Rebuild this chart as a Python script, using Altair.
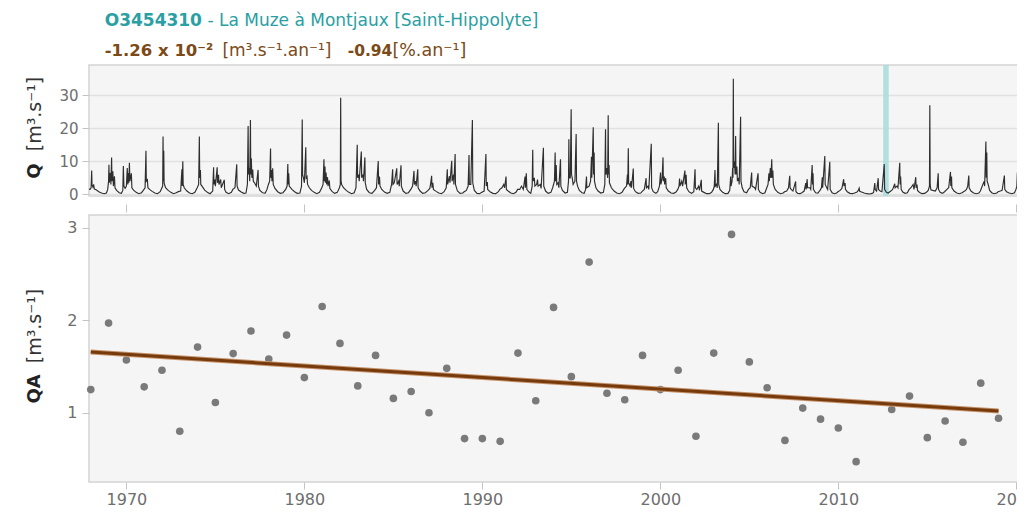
import altair as alt
import pandas as pd

# ---------------- data ----------------
qa_years = [1968, 1969, 1970, 1971, 1972, 1973, 1974, 1975, 1976, 1977,
            1978, 1979, 1980, 1981, 1982, 1983, 1984, 1985, 1986, 1987,
            1988, 1989, 1990, 1991, 1992, 1993, 1994, 1995, 1996, 1997,
            1998, 1999, 2000, 2001, 2002, 2003, 2004, 2005, 2006, 2007,
            2008, 2009, 2010, 2011, 2013, 2014, 2015, 2016, 2017, 2018, 2019]
qa_values = [1.25, 1.97, 1.57, 1.28, 1.46, 0.80, 1.71, 1.11, 1.64, 1.885,
             1.58, 1.84, 1.38, 2.15, 1.75, 1.29, 1.62, 1.155, 1.23, 1.00,
             1.48, 0.72, 0.72, 0.69, 1.645, 1.13, 2.14, 1.39, 2.63, 1.21,
             1.14, 1.62, 1.25, 1.46, 0.745, 1.645, 2.93, 1.55, 1.27, 0.70,
             1.05, 0.93, 0.835, 0.47, 1.035, 1.18, 0.73, 0.91, 0.68, 1.32, 0.94]

trend_years = [1968, 2019]
trend_values = [1.656, 1.018]

band_start = [2012.52]
band_end = [2012.83]

x_ticks = [1970, 1980, 1990, 2000, 2010, 2020]
q_ticks = [0, 10, 20, 30]
qa_ticks = [1, 2, 3]

# daily flow Q (m3/s): (decimal year, flow) read along the hydrograph
q_1968_1979 = [
    (1967.90, 1.6), (1967.96, 1.5), (1968.02, 2.0), (1968.05, 7.2), (1968.07, 2.8), (1968.12, 2.2), (1968.16, 3.0), (1968.20, 1.6), (1968.30, 1.4), (1968.45, 0.8), (1968.60, 0.4), (1968.75, 0.2), (1968.88, 0.4), (1968.95, 1.5),
    (1969.00, 4.0), (1969.02, 9.0), (1969.04, 3.5), (1969.10, 6.5), (1969.13, 3.0), (1969.17, 11.2), (1969.19, 4.0), (1969.24, 7.0), (1969.27, 2.5), (1969.33, 5.5), (1969.36, 2.0), (1969.45, 1.2), (1969.60, 0.5), (1969.72, 0.3), (1969.80, 1.2), (1969.83, 8.6), (1969.86, 2.5), (1969.93, 1.8),
    (1970.00, 2.5), (1970.05, 8.0), (1970.08, 3.0), (1970.12, 6.5), (1970.14, 3.5), (1970.17, 9.6), (1970.20, 4.0), (1970.28, 6.4), (1970.31, 2.0), (1970.40, 1.3), (1970.55, 0.6), (1970.70, 0.2), (1970.85, 0.5), (1970.95, 1.2),
    (1971.05, 2.0), (1971.10, 13.2), (1971.12, 4.0), (1971.18, 4.4), (1971.21, 2.0), (1971.30, 1.5), (1971.45, 0.9), (1971.60, 0.4), (1971.75, 0.2), (1971.90, 0.8), (1971.98, 1.8),
    (1972.04, 2.5), (1972.06, 17.5), (1972.08, 4.0), (1972.10, 13.2), (1972.12, 3.5), (1972.20, 2.0), (1972.35, 1.2), (1972.50, 0.6), (1972.65, 0.2), (1972.80, 0.5), (1972.95, 0.9),
    (1973.05, 1.0), (1973.12, 7.6), (1973.14, 2.5), (1973.17, 10.0), (1973.19, 3.0), (1973.25, 2.0), (1973.40, 1.0), (1973.55, 0.4), (1973.70, 0.2), (1973.85, 0.6), (1973.98, 2.0),
    (1974.06, 3.0), (1974.10, 17.5), (1974.12, 5.0), (1974.16, 7.4), (1974.18, 3.0), (1974.25, 2.5), (1974.40, 1.3), (1974.55, 0.6), (1974.70, 0.2), (1974.85, 1.0), (1974.90, 8.2), (1974.92, 3.0), (1974.97, 4.5),
    (1975.00, 2.5), (1975.10, 8.2), (1975.12, 3.5), (1975.18, 5.9), (1975.20, 3.0), (1975.30, 4.5), (1975.33, 2.0), (1975.50, 4.4), (1975.52, 1.5), (1975.60, 0.6), (1975.75, 0.2), (1975.90, 0.6), (1975.98, 1.5),
    (1976.10, 2.0), (1976.20, 9.1), (1976.22, 2.5), (1976.30, 1.3), (1976.45, 0.7), (1976.60, 0.3), (1976.72, 0.4), (1976.80, 3.0), (1976.84, 20.7), (1976.86, 6.0), (1976.90, 8.0), (1976.93, 4.0), (1976.97, 22.5), (1976.99, 6.0),
    (1977.02, 10.9), (1977.05, 5.0), (1977.10, 7.5), (1977.13, 4.0), (1977.20, 3.5), (1977.30, 2.5), (1977.40, 7.4), (1977.42, 2.5), (1977.50, 1.2), (1977.65, 0.5), (1977.80, 0.4), (1977.90, 1.5), (1977.98, 3.0),
    (1978.05, 4.0), (1978.10, 13.9), (1978.12, 5.0), (1978.15, 7.4), (1978.18, 4.0), (1978.22, 7.9), (1978.25, 3.0), (1978.35, 1.8), (1978.50, 0.8), (1978.65, 0.3), (1978.80, 0.5), (1978.95, 1.5),
    (1979.03, 2.5), (1979.07, 9.2), (1979.09, 3.0), (1979.12, 6.4), (1979.15, 2.5), (1979.30, 1.5), (1979.45, 0.8), (1979.60, 0.3), (1979.75, 0.4), (1979.84, 2.5), (1979.88, 22.7), (1979.90, 6.0), (1979.95, 5.0),
]
q_1980s = [
    (1980.00, 3.5), (1980.08, 14.3), (1980.10, 5.0), (1980.15, 5.4), (1980.18, 3.0), (1980.28, 2.0), (1980.40, 1.2), (1980.55, 0.6), (1980.70, 0.2), (1980.85, 0.6), (1980.98, 2.0),
    (1981.05, 3.0), (1981.10, 10.6), (1981.12, 4.0), (1981.16, 8.4), (1981.18, 3.5), (1981.22, 6.6), (1981.25, 3.0), (1981.30, 5.2), (1981.33, 2.5), (1981.40, 4.2), (1981.43, 1.8), (1981.55, 0.9), (1981.70, 0.3), (1981.85, 0.6), (1981.97, 2.0),
    (1982.02, 3.0), (1982.04, 29.3), (1982.06, 4.0), (1982.10, 2.9), (1982.20, 2.0), (1982.35, 1.2), (1982.50, 0.6), (1982.65, 0.2), (1982.80, 0.5), (1982.90, 2.0), (1982.97, 15.0), (1982.99, 5.0),
    (1983.05, 6.0), (1983.08, 4.0), (1983.20, 13.0), (1983.22, 5.0), (1983.30, 6.0), (1983.32, 4.0), (1983.40, 11.2), (1983.42, 3.5), (1983.50, 1.5), (1983.65, 0.5), (1983.80, 0.3), (1983.95, 1.2),
    (1984.05, 2.0), (1984.15, 10.1), (1984.17, 3.0), (1984.22, 5.4), (1984.25, 2.5), (1984.35, 1.5), (1984.50, 0.7), (1984.65, 0.3), (1984.80, 0.6), (1984.90, 3.0), (1984.96, 7.6), (1984.98, 3.0),
    (1985.05, 3.5), (1985.10, 5.0), (1985.19, 7.9), (1985.21, 3.0), (1985.30, 4.0), (1985.33, 2.5), (1985.43, 8.8), (1985.45, 2.5), (1985.55, 1.0), (1985.70, 0.3), (1985.85, 0.5), (1985.98, 1.5),
    (1986.08, 2.5), (1986.16, 7.1), (1986.18, 3.0), (1986.25, 4.0), (1986.28, 2.5), (1986.37, 7.6), (1986.39, 2.0), (1986.50, 1.0), (1986.65, 0.3), (1986.80, 0.5), (1986.95, 1.2),
    (1987.05, 1.8), (1987.10, 3.5), (1987.15, 5.6), (1987.17, 2.0), (1987.22, 3.5), (1987.25, 1.5), (1987.40, 0.9), (1987.55, 0.4), (1987.70, 0.2), (1987.85, 0.8), (1987.97, 2.0),
    (1988.03, 7.6), (1988.05, 3.0), (1988.15, 5.5), (1988.18, 3.5), (1988.28, 10.2), (1988.30, 4.0), (1988.38, 6.0), (1988.40, 3.0), (1988.47, 12.2), (1988.49, 3.0), (1988.60, 1.0), (1988.75, 0.3), (1988.90, 0.4), (1988.98, 0.8),
    (1989.10, 1.2), (1989.20, 2.5), (1989.25, 11.9), (1989.27, 3.0), (1989.35, 3.0), (1989.44, 22.5), (1989.46, 3.5), (1989.55, 1.2), (1989.70, 0.3), (1989.85, 0.2), (1989.95, 0.6),
]
q_1990s = [
    (1990.10, 1.0), (1990.20, 12.2), (1990.22, 2.5), (1990.28, 3.7), (1990.30, 1.5), (1990.45, 0.7), (1990.60, 0.3), (1990.75, 0.2), (1990.90, 0.8), (1990.98, 1.5),
    (1991.10, 2.0), (1991.20, 3.0), (1991.25, 2.0), (1991.33, 5.4), (1991.35, 1.5), (1991.45, 1.0), (1991.60, 0.4), (1991.75, 0.2), (1991.90, 0.7), (1991.98, 1.5),
    (1992.10, 1.5), (1992.20, 2.5), (1992.30, 1.5), (1992.40, 5.4), (1992.42, 2.0), (1992.47, 6.4), (1992.50, 1.5), (1992.62, 0.7), (1992.72, 0.3), (1992.80, 2.5), (1992.83, 13.5), (1992.85, 4.0), (1992.92, 5.0), (1992.95, 2.5),
    (1993.05, 3.0), (1993.10, 4.5), (1993.13, 2.5), (1993.25, 3.0), (1993.30, 1.8), (1993.43, 14.1), (1993.45, 2.5), (1993.55, 1.0), (1993.70, 0.3), (1993.85, 0.6), (1993.95, 2.0),
    (1994.05, 4.0), (1994.09, 12.7), (1994.11, 4.0), (1994.15, 8.9), (1994.18, 3.0), (1994.25, 3.5), (1994.30, 2.0), (1994.39, 10.6), (1994.41, 2.5), (1994.50, 1.2), (1994.65, 0.4), (1994.78, 0.6), (1994.84, 4.0), (1994.86, 16.7), (1994.88, 5.0), (1994.94, 5.0), (1994.99, 25.8),
    (1995.01, 6.0), (1995.05, 5.0), (1995.10, 3.0), (1995.20, 4.0), (1995.27, 18.3), (1995.29, 4.0), (1995.35, 2.5), (1995.45, 1.2), (1995.60, 0.5), (1995.72, 0.3), (1995.80, 1.5), (1995.85, 5.4), (1995.87, 2.0),
    (1996.00, 2.5), (1996.08, 4.0), (1996.13, 11.4), (1996.15, 5.0), (1996.23, 20.3), (1996.25, 6.0), (1996.28, 12.7), (1996.30, 4.0), (1996.38, 2.0), (1996.50, 1.0), (1996.65, 0.4), (1996.80, 0.6), (1996.88, 3.0), (1996.92, 19.7), (1996.94, 6.0), (1996.99, 8.0),
    (1997.04, 5.0), (1997.07, 24.0), (1997.09, 6.0), (1997.12, 8.9), (1997.14, 3.5), (1997.25, 2.0), (1997.40, 1.0), (1997.55, 0.4), (1997.70, 0.2), (1997.85, 0.6), (1997.98, 1.8),
    (1998.10, 2.5), (1998.15, 6.0), (1998.17, 3.0), (1998.20, 14.0), (1998.22, 3.5), (1998.30, 2.5), (1998.35, 4.0), (1998.38, 2.0), (1998.48, 7.8), (1998.50, 1.8), (1998.60, 0.8), (1998.75, 0.3), (1998.90, 0.4), (1998.98, 0.9),
    (1999.10, 1.5), (1999.20, 4.9), (1999.22, 2.0), (1999.30, 2.5), (1999.35, 1.5), (1999.49, 15.3), (1999.51, 2.0), (1999.60, 0.8), (1999.75, 0.3), (1999.85, 0.8), (1999.95, 2.5),
]
q_2000s = [
    (2000.01, 6.6), (2000.03, 3.0), (2000.10, 5.0), (2000.15, 11.2), (2000.17, 4.0), (2000.22, 5.4), (2000.24, 3.0), (2000.30, 4.9), (2000.33, 2.0), (2000.45, 1.0), (2000.60, 0.4), (2000.75, 0.3), (2000.88, 0.7), (2000.98, 1.5),
    (2001.05, 2.5), (2001.08, 4.8), (2001.10, 2.5), (2001.20, 4.0), (2001.25, 2.5), (2001.38, 7.2), (2001.40, 3.0), (2001.45, 5.9), (2001.48, 2.0), (2001.60, 0.8), (2001.75, 0.3), (2001.88, 0.8), (2001.95, 7.6), (2001.97, 2.0),
    (2002.05, 1.5), (2002.15, 2.5), (2002.20, 1.2), (2002.30, 4.4), (2002.32, 1.0), (2002.45, 0.6), (2002.60, 0.2), (2002.75, 0.2), (2002.88, 0.6), (2002.98, 1.5),
    (2003.03, 2.5), (2003.07, 7.4), (2003.09, 2.5), (2003.15, 3.0), (2003.20, 2.0), (2003.26, 21.7), (2003.28, 3.0), (2003.35, 1.5), (2003.50, 0.6), (2003.65, 0.2), (2003.80, 0.3), (2003.90, 1.2), (2003.95, 5.4), (2003.97, 2.5),
    (2004.03, 4.0), (2004.06, 8.0), (2004.08, 5.0), (2004.10, 35.0), (2004.12, 8.0), (2004.17, 10.0), (2004.20, 6.0), (2004.23, 17.7), (2004.25, 6.0), (2004.30, 8.4), (2004.33, 4.0), (2004.40, 5.0), (2004.43, 3.0), (2004.51, 23.5), (2004.53, 4.0), (2004.60, 2.0), (2004.70, 0.8), (2004.85, 0.5), (2004.95, 1.5),
    (2005.05, 2.0), (2005.13, 6.6), (2005.15, 2.5), (2005.30, 2.0), (2005.35, 1.5), (2005.49, 6.4), (2005.51, 1.5), (2005.60, 0.6), (2005.75, 0.2), (2005.88, 0.5), (2005.98, 2.0),
    (2006.05, 3.0), (2006.10, 6.4), (2006.12, 4.0), (2006.18, 8.0), (2006.21, 5.0), (2006.26, 10.6), (2006.28, 5.0), (2006.32, 7.2), (2006.35, 3.0), (2006.45, 1.5), (2006.60, 0.6), (2006.75, 0.2), (2006.90, 0.4), (2006.98, 0.8),
    (2007.10, 1.0), (2007.20, 2.0), (2007.27, 5.6), (2007.29, 2.0), (2007.35, 1.5), (2007.45, 1.0), (2007.60, 3.9), (2007.62, 0.8), (2007.72, 0.3), (2007.85, 0.2), (2007.95, 0.5),
    (2008.08, 1.0), (2008.17, 3.4), (2008.19, 1.5), (2008.25, 4.6), (2008.27, 2.0), (2008.40, 2.0), (2008.45, 1.5), (2008.53, 8.9), (2008.55, 3.0), (2008.58, 6.4), (2008.60, 1.5), (2008.72, 0.5), (2008.85, 0.4), (2008.97, 1.2),
    (2009.05, 2.0), (2009.10, 5.2), (2009.12, 2.0), (2009.24, 11.6), (2009.26, 3.0), (2009.35, 2.0), (2009.40, 1.5), (2009.52, 9.9), (2009.54, 1.5), (2009.65, 0.5), (2009.78, 0.2), (2009.90, 0.4), (2009.98, 0.8),
]
q_2010s = [
    (2010.10, 1.2), (2010.20, 1.8), (2010.30, 4.6), (2010.32, 2.5), (2010.38, 3.4), (2010.40, 1.5), (2010.50, 0.8), (2010.65, 0.3), (2010.80, 0.2), (2010.95, 0.5),
    (2011.05, 0.7), (2011.12, 1.2), (2011.17, 1.9), (2011.20, 0.9), (2011.30, 0.7), (2011.45, 0.4), (2011.60, 0.2), (2011.75, 0.1), (2011.90, 0.3), (2011.98, 0.6),
    (2012.05, 3.4), (2012.07, 1.5), (2012.15, 1.0), (2012.24, 4.9), (2012.26, 1.5), (2012.35, 1.0), (2012.45, 0.8), (2012.58, 9.2), (2012.60, 1.5), (2012.70, 0.6), (2012.80, 0.4), (2012.95, 1.0),
    (2013.05, 1.5), (2013.17, 3.2), (2013.19, 2.0), (2013.30, 2.5), (2013.35, 2.0), (2013.45, 9.6), (2013.47, 3.0), (2013.50, 5.4), (2013.53, 1.5), (2013.62, 0.7), (2013.75, 0.3), (2013.88, 0.5), (2013.98, 1.5),
    (2014.08, 2.0), (2014.20, 3.0), (2014.25, 1.5), (2014.35, 5.2), (2014.37, 2.0), (2014.42, 3.0), (2014.45, 1.2), (2014.55, 0.6), (2014.70, 0.2), (2014.85, 0.3), (2014.98, 0.8),
    (2015.05, 1.2), (2015.12, 2.5), (2015.14, 27.0), (2015.16, 3.0), (2015.20, 1.4), (2015.30, 1.2), (2015.45, 1.0), (2015.55, 2.0), (2015.61, 6.4), (2015.63, 1.5), (2015.72, 0.6), (2015.85, 0.3), (2015.97, 0.8),
    (2016.10, 1.5), (2016.20, 2.0), (2016.30, 6.8), (2016.32, 2.5), (2016.36, 5.4), (2016.38, 2.0), (2016.50, 1.0), (2016.65, 0.4), (2016.80, 0.2), (2016.95, 0.5),
    (2017.10, 1.0), (2017.20, 1.5), (2017.27, 2.5), (2017.33, 5.7), (2017.35, 2.0), (2017.45, 1.0), (2017.60, 0.4), (2017.75, 0.2), (2017.90, 0.4), (2017.98, 1.0),
    (2018.05, 2.0), (2018.12, 3.0), (2018.20, 4.0), (2018.22, 2.5), (2018.29, 16.0), (2018.31, 5.0), (2018.34, 12.7), (2018.36, 4.0), (2018.42, 3.0), (2018.50, 1.2), (2018.62, 0.5), (2018.75, 0.2), (2018.90, 0.4), (2018.98, 0.8),
    (2019.10, 1.0), (2019.20, 1.2), (2019.33, 5.7), (2019.35, 1.5), (2019.45, 0.8), (2019.60, 0.4), (2019.75, 0.2), (2019.90, 0.5), (2019.98, 1.5),
    (2020.03, 2.5), (2020.06, 6.6), (2020.08, 3.0), (2020.20, 16.7), (2020.22, 5.0), (2020.30, 4.0), (2020.35, 3.0), (2020.43, 7.9), (2020.45, 3.0), (2020.50, 2.0), (2020.60, 1.2),
]

# ---------------- tables ----------------
q_df = pd.DataFrame(q_1968_1979 + q_1980s + q_1990s + q_2000s + q_2010s,
                    columns=["t", "q"]).sort_values("t")
qa_df = pd.DataFrame({"year": qa_years, "qa": qa_values})
trend_df = pd.DataFrame({"year": trend_years, "qa": trend_values})
band_df = pd.DataFrame({"start": band_start, "end": band_end})
one = pd.DataFrame({"k": [0]})

FONT = "DejaVu Sans"
TEAL = "#2a9fa4"
BROWN = "#7b4a17"
W = 938
H_TOP = 131
H_BOT = 267

x_scale = alt.Scale(domain=[1967.9, 2020.6], nice=False, zero=False)


def txt(text, x, y, size, color, weight="normal", angle=0, align="left", baseline="alphabetic"):
    return alt.Chart(one).mark_text(
        text=text, font=FONT, fontSize=size, color=color, fontWeight=weight,
        angle=angle, align=align, baseline=baseline
    ).encode(x=alt.value(x), y=alt.value(y))


# ---------------- top panel: Q ----------------
band = alt.Chart(band_df).mark_rect(color="#a9dede", opacity=0.9).encode(
    x=alt.X("start:Q", scale=x_scale), x2="end:Q"
)
hydro = alt.Chart(q_df).mark_line(color="#2e2e2e", strokeWidth=1.15, clip=True).encode(
    x=alt.X("t:Q", scale=x_scale,
            axis=alt.Axis(values=x_ticks, labels=False, ticks=True, tickSize=8,
                          offset=8, domain=False, grid=False, title=None)),
    y=alt.Y("q:Q", scale=alt.Scale(domain=[-0.5, 39.2], nice=False, zero=False),
            axis=alt.Axis(values=q_ticks, grid=True, gridColor="#e1e1e1", gridWidth=1.5,
                          tickSize=7, labelPadding=4, title=None, domain=False,
                          labelFontSize=15)),
)

left = 89.3
title_layers = [
    txt("O3454310", 105 - left, 25.3 - 64, 17, TEAL, "bold"),
    txt("- La Muze à Montjaux [Saint-Hippolyte]", 207.7 - left, 25.3 - 64, 17, TEAL),
    txt("-1.26 x 10⁻²", 105 - left, 54.5 - 64, 16.5, BROWN, "bold"),
    txt("[m³.s⁻¹.an⁻¹]", 222.7 - left, 54.5 - 64, 17, BROWN),
    txt("-0.94", 348 - left, 54.5 - 64, 15.5, BROWN, "bold"),
    txt("[%.an⁻¹]", 392.7 - left, 54.5 - 64, 17.5, BROWN),
    txt("Q", 35 - left, 170 - 64, 18, "#222222", "bold", 270, "center", "middle"),
    txt("[m³.s⁻¹]", 35 - left, 113 - 64, 19, "#333333", "normal", 270, "center", "middle"),
]

top = alt.layer(band, hydro, *title_layers).properties(width=W, height=H_TOP)

# ---------------- bottom panel: QA ----------------
pts = alt.Chart(qa_df).mark_circle(size=58, color="#7a7a7a", opacity=1).encode(
    x=alt.X("year:Q", scale=x_scale,
            axis=alt.Axis(values=x_ticks, format="d", tickSize=7, labelPadding=2,
                          domain=False, grid=False, title=None, labelFontSize=16)),
    y=alt.Y("qa:Q", scale=alt.Scale(domain=[0.25, 3.14], nice=False, zero=False),
            axis=alt.Axis(values=qa_ticks, format="d", grid=False, tickSize=7,
                          labelPadding=5, domain=False, title=None, labelFontSize=16)),
)
trend_halo = alt.Chart(trend_df).mark_line(color="#c4926a", strokeWidth=5).encode(
    x=alt.X("year:Q", scale=x_scale), y="qa:Q"
)
trend = alt.Chart(trend_df).mark_line(color="#773a0c", strokeWidth=3).encode(
    x=alt.X("year:Q", scale=x_scale), y="qa:Q"
)
bot_titles = [
    txt("QA", 35 - left, 387 - 213, 18, "#222222", "bold", 270, "center", "middle"),
    txt("[m³.s⁻¹]", 35 - left, 324 - 213, 19, "#333333", "normal", 270, "center", "middle"),
]
bottom = alt.layer(pts, trend_halo, trend, *bot_titles).properties(width=W, height=H_BOT)

chart = alt.vconcat(top, bottom, spacing=0).properties(
    padding={"left": 16, "top": 3, "right": -21, "bottom": 0}
).configure_view(
    fill="#f5f5f5", stroke="#d4d4d4", strokeWidth=1.5
).configure_axis(
    labelFont=FONT, labelColor="#6e6e6e",
    tickColor="#c4c4c4", tickWidth=1
)

chart.save("out.html", embed_options={"renderer": "svg", "actions": False})
